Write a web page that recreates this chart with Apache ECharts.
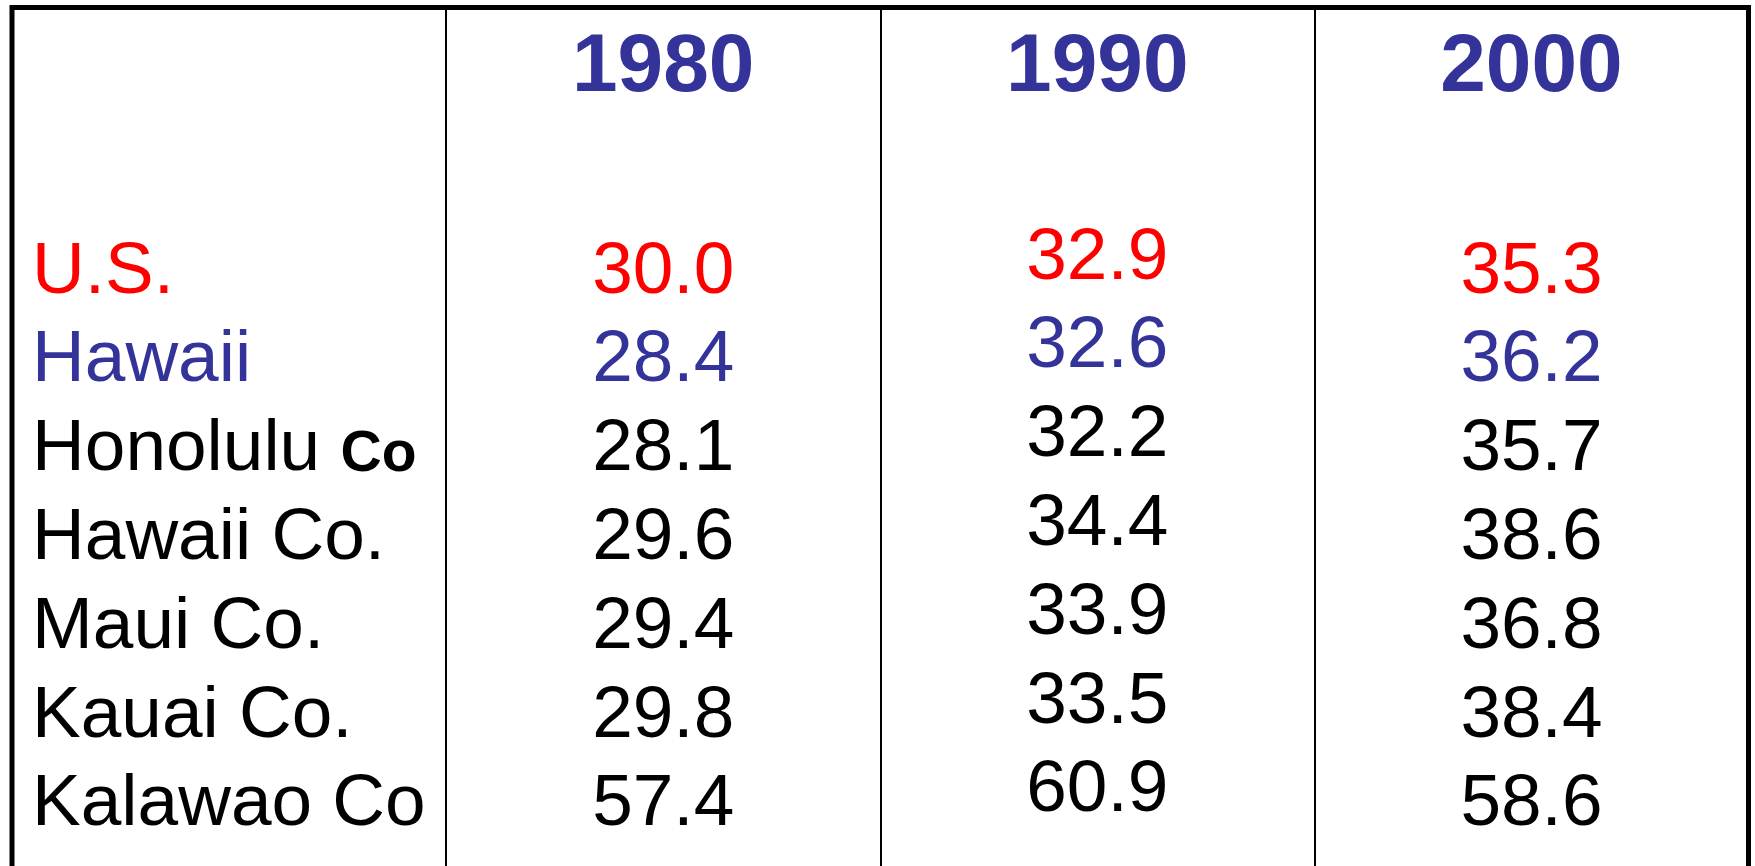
<!DOCTYPE html>
<html>
<head>
<meta charset="utf-8">
<script src="https://cdn.jsdelivr.net/npm/echarts@6/dist/echarts.min.js"></script>
<style>
html,body{margin:0;padding:0;background:#fff;}
#main{width:1755px;height:866px;}
</style>
</head>
<body>
<div id="main"></div>
<script>
// ---- data ----
var columnHeaders = ['', '1980', '1990', '2000'];
var rowNames = ['U.S.', 'Hawaii', 'Honolulu Co', 'Hawaii Co.', 'Maui Co.', 'Kauai Co.', 'Kalawao Co'];
var values1980 = [30.0, 28.4, 28.1, 29.6, 29.4, 29.8, 57.4];
var values1990 = [32.9, 32.6, 32.2, 34.4, 33.9, 33.5, 60.9];
var values2000 = [35.3, 36.2, 35.7, 38.6, 36.8, 38.4, 58.6];

// ---- styles ----
function rowColor(i) { return i === 0 ? '#FF0000' : (i === 1 ? '#333399' : '#000000'); }
var FONT = '"Liberation Sans", Arial, sans-serif';
var BODY_SIZE = 73;

var chart = echarts.init(document.getElementById('main'), null, {renderer: 'canvas'});

function numberSeries(name, colIdx, vals, yOffset) {
  return {
    name: name,
    type: 'scatter',
    symbolSize: 0,
    silent: true,
    itemStyle: { opacity: 1 },
    data: vals.map(function (v, i) {
      return { value: [colIdx, i, v], label: { color: rowColor(i) } };
    }),
    label: {
      show: true,
      position: 'inside',
      offset: [0, yOffset],
      opacity: 1,
      fontFamily: FONT,
      fontSize: BODY_SIZE,
      formatter: function (p) { return p.value[2].toFixed(1); }
    }
  };
}

var option = {
  backgroundColor: '#ffffff',
  animation: false,
  grid: {
    left: 12, right: 6.5, top: 7.5, height: 900,
    outerBoundsMode: 'none',
    containLabel: false,
    show: true, borderColor: '#000', borderWidth: 5, backgroundColor: '#fff'
  },
  xAxis: {
    type: 'category',
    data: columnHeaders,
    position: 'top',
    boundaryGap: true,
    axisLine: { show: false },
    axisTick: { show: false },
    splitLine: { show: true, interval: 0, lineStyle: { color: '#000', width: 2 } },
    axisLabel: {
      show: true, inside: true, interval: 0, margin: 61, verticalAlign: 'middle',
      fontFamily: FONT, fontWeight: 'bold', fontSize: 82, color: '#333399'
    }
  },
  yAxis: {
    type: 'value',
    inverse: true,
    min: -2.984, max: 7.151,
    show: false,
    splitLine: { show: false }
  },
  series: [
    {
      name: 'rows',
      type: 'scatter',
      symbolSize: 0,
      silent: true,
      itemStyle: { opacity: 1 },
      data: rowNames.map(function (n, i) {
        return { value: [0, i], name: n, label: { color: rowColor(i) } };
      }),
      label: {
        show: true,
        position: 'inside',
        align: 'left',
        offset: [-197, 0],
        opacity: 1,
        fontFamily: FONT,
        fontSize: BODY_SIZE,
        formatter: function (p) {
          var n = p.name;
          if (n.indexOf('Honolulu') === 0) {
            return '{a|' + n.replace(/ Co$/, '') + ' }{b|Co}';
          }
          return '{a|' + n + '}';
        },
        rich: {
          a: { fontFamily: FONT, fontSize: BODY_SIZE, verticalAlign: 'bottom' },
          b: { fontFamily: FONT, fontSize: 57, fontWeight: 'bold', verticalAlign: 'bottom', padding: [0, 0, 3, 0] }
        }
      }
    },
    numberSeries('1980', 1, values1980, 0),
    numberSeries('1990', 2, values1990, -14),
    numberSeries('2000', 3, values2000, 0)
  ]
};
chart.setOption(option);
</script>
</body>
</html>
